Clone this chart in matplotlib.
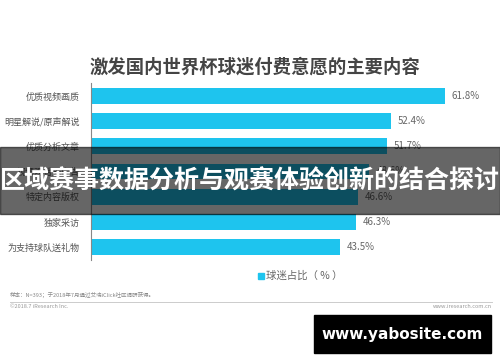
import matplotlib
matplotlib.use("Agg")
import matplotlib.pyplot as plt
from matplotlib.patches import Rectangle

plt.rcParams['font.family'] = ['Noto Sans CJK SC', 'DejaVu Sans']

categories = ['优质视频画质', '明星解说/原声解说', '优质分析文章', '视频观看无广告',
              '特定内容版权', '独家采访', '为支持球队送礼物']
values = [61.8, 52.4, 51.7, 48.6, 46.6, 46.3, 43.5]
title = '激发国内世界杯球迷付费意愿的主要内容'
legend_label = '球迷占比（ % ）'
note = '样本：N=393；于2018年7月通过艾瑞iClick社区调研获得。'
overlay_text = '区域赛事数据分析与观赛体验创新的结合探讨'
bar_color = '#1ec4ee'

W, H = 500, 362
fig = plt.figure(figsize=(W / 100, H / 100), dpi=100)
fig.patch.set_facecolor('white')

# axes placed in pixel coordinates
ax_l, ax_r, ax_t, ax_b = 91, 492, 83.4, 259.6
ax = fig.add_axes([ax_l / W, 1 - ax_b / H, (ax_r - ax_l) / W, (ax_b - ax_t) / H])
y = list(range(len(categories)))
ax.barh(y, values, height=0.63, color=bar_color)
ax.set_xlim(0, 70)
ax.set_ylim(len(categories) - 0.5, -0.5)
ax.set_yticks(y)
ax.set_yticklabels(categories, fontsize=6.5, color='#555555')
ax.tick_params(axis='y', length=0, pad=8)
ax.set_xticks([])
for s in ['top', 'right', 'bottom']:
    ax.spines[s].set_visible(False)
ax.spines['left'].set_color('#888888')
ax.spines['left'].set_linewidth(0.8)
for yi, v in zip(y, values):
    ax.annotate(f'{v}%', (v, yi), xytext=(5, 0), textcoords='offset points',
                va='center', ha='left', fontsize=7, color='#666666')

fig.text(90 / W, 1 - 67 / H, title, fontsize=13.2, fontweight='bold',
         color='#444444', va='center', ha='left')

# legend
fig.patches.append(Rectangle((258 / W, 1 - 279 / H), 6 / W, 6 / H,
                             transform=fig.transFigure, color=bar_color))
fig.text(266 / W, 1 - 276 / H, legend_label, fontsize=7.5, color='#666666',
         va='center', ha='left')

# footer
fig.text(10 / W, 1 - 295 / H, note, fontsize=4, color='#888888', va='center')
fig.add_artist(plt.Line2D([10 / W, 492 / W], [1 - 301.5 / H, 1 - 301.5 / H],
                          color='#cccccc', lw=0.7, transform=fig.transFigure))
fig.text(10 / W, 1 - 307 / H, '©2018.7 iResearch Inc.', fontsize=4,
         color='#999999', va='center')
fig.text(492 / W, 1 - 307 / H, 'www.iresearch.com.cn', fontsize=4,
         color='#999999', va='center', ha='right')

# overlay band and title
fig.patches.append(Rectangle((0, 1 - 214 / H), 1, 67 / H, transform=fig.transFigure,
                             color='black', alpha=0.6, zorder=5))
fig.text(250 / W, 1 - 181 / H, overlay_text, fontsize=18, fontweight='bold',
         color='white', ha='center', va='center', zorder=6)

# watermark box
fig.patches.append(Rectangle((314 / W, 1 - 353 / H), 177 / W, 38 / H,
                             transform=fig.transFigure, color='black', zorder=5))
fig.text(402 / W, 1 - 334 / H, 'www.yabosite.com', fontsize=11, fontweight='bold',
         color='white', ha='center', va='center', zorder=6, family='DejaVu Sans')

fig.savefig('out.png', dpi=100)
